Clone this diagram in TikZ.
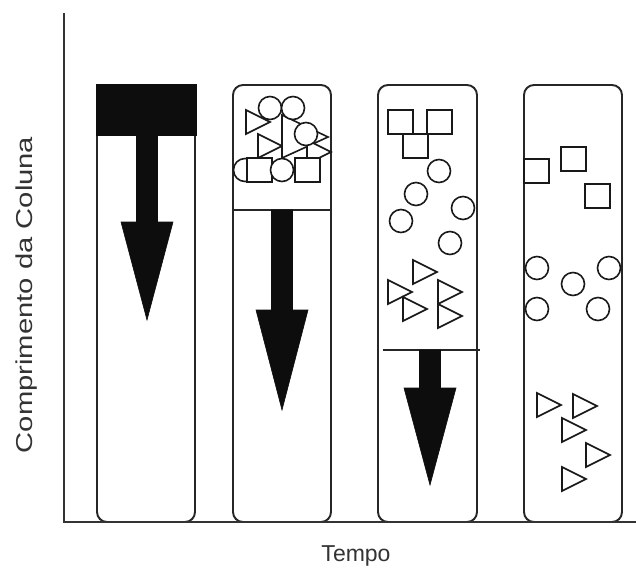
\documentclass[tikz,border=0pt]{standalone}
\usepackage{fontspec}
\setmainfont{Liberation Sans}
\newcommand\mytri[2]{\draw[shp] (#1,#2) -- (#1,#2+24) -- (#1+24,#2+12) -- cycle;}
\newcommand\mysq[2]{\draw[shp] (#1,#2) rectangle (#1+25,#2+24);}
\newcommand\mycirc[2]{\draw[shp] (#1,#2) circle[radius=11.5];}
\newcommand\myarrow[4]{% center x, shaft top, head top, tip
  \fill[blk] (#1-10.5,#2) -- (#1+10.5,#2) -- (#1+10.5,#3) -- (#1+26,#3) -- (#1,#4) -- (#1-26,#3) -- (#1-10.5,#3) -- cycle;}
\begin{document}
\begin{tikzpicture}[x=1pt,y=-1pt,
  col/.style={draw=black!85, line width=1.9pt, rounded corners=10pt, fill=white},
  shp/.style={draw=black!90, line width=1.6pt, fill=white},
  blk/.style={fill=black!95, draw=black!95, line width=0.6pt},
  axis/.style={draw=black!80, line width=2.2pt},
  lvl/.style={draw=black!85, line width=1.7pt},
  lbl/.style={font=\fontsize{23}{27}\selectfont, text=black!80, inner sep=0pt}]
\useasboundingbox (0,0) rectangle (636,571);

% columns
\draw[col] (97,85) rectangle (195,522);
\draw[col] (233,85) rectangle (331,522);
\draw[col] (378,85) rectangle (477,522);
\draw[col] (524,85) rectangle (622,522);

% column 1
\fill[blk] (96,84) rectangle (196,135);
\myarrow{147}{122}{222}{320}

% column 2
\mytri{246}{110}
\mytri{258}{134}
\draw[shp] (282,115) -- (282,158) -- (328,137) -- cycle;
\mytri{307}{140}
\mycirc{270}{108}
\mycirc{293}{108}
\mycirc{306}{134}
\mycirc{245}{170}
\mysq{247}{158}
\mysq{295}{158}
\mycirc{282}{170}
\draw[lvl] (233,210) -- (331,210);
\myarrow{282}{210}{310}{410}

% column 3
\mysq{388}{110}
\mysq{427}{110}
\mysq{403}{134}
\mycirc{439}{171}
\mycirc{416}{194}
\mycirc{463}{208}
\mycirc{401}{221}
\mycirc{450}{243}
\mytri{413}{260}
\mytri{388}{280}
\mytri{438}{280}
\mytri{403}{297}
\mytri{438}{304}
\draw[lvl] (383,350) -- (480,350);
\myarrow{430}{350}{388}{485}

% column 4
\mysq{524}{159}
\mysq{561}{147}
\mysq{585}{184}
\mycirc{537}{268}
\mycirc{609}{268}
\mycirc{573}{284}
\mycirc{537}{309}
\mycirc{598}{309}
\mytri{537}{393}
\mytri{573}{394}
\mytri{562}{418}
\mytri{586}{443}
\mytri{562}{467}

% axes
\coordinate (o) at (64,522);
\coordinate (ytop) at (64,13);
\coordinate (xend) at (636,522);
\draw[axis] (ytop) -- (o) -- (xend);

% labels
\node[lbl] (tempo) at (356,556) {Tempo};
\node[lbl, rotate=90] (ylab) at (27,295) {\scalebox{1.27}[1]{Comprimento da Coluna}};
\end{tikzpicture}
\end{document}
